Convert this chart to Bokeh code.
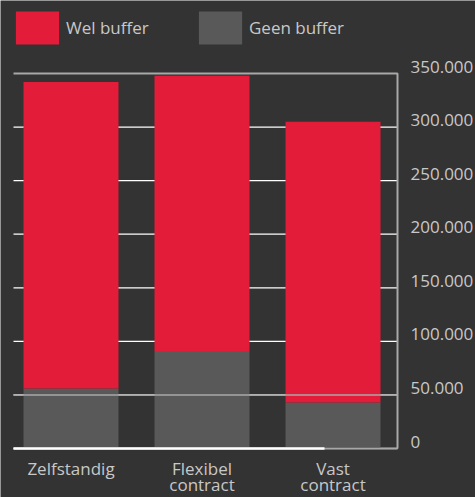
from bokeh.plotting import figure
from bokeh.models import (Range1d, Legend, LegendItem, ColumnDataSource, LabelSet)
from bokeh.core.properties import value
from bokeh.embed import file_html
from bokeh.resources import INLINE

categories = ["Zelfstandig", "Flexibel contract", "Vast contract"]
geen_buffer = [56000, 91000, 43000]
wel_buffer = [286000, 257000, 262000]
y_ticks = [0, 50000, 100000, 150000, 200000, 250000, 300000, 350000]
y_tick_labels = ["0", "50.000", "100.000", "150.000", "200.000", "250.000", "300.000", "350.000"]

BG = "#333333"
RED = "#e31d39"
GREY = "#595959"
TXT = "#c8c8c8"
LINE = "#a8a8a8"
FONT = "Open Sans"
W, H = 475, 497

# layout: plot area 13..397 px wide, value 0 at 448 px, 350.000 at 73 px
SLOT = 131.0                       # px per category
X0_PX = 70.5                       # px of first category centre
PX = y_ticks[-1] / 375.0           # data units per px (y)
x_lo, x_hi = (0 - X0_PX) / SLOT, (W - X0_PX) / SLOT
gx0, gx1 = (13 - X0_PX) / SLOT, (397 - X0_PX) / SLOT
y_lo, y_hi = -(H - 448) * PX, 448 * PX

x_idx = list(range(len(categories)))
source = ColumnDataSource(dict(
    x=x_idx, geen=geen_buffer, wel=wel_buffer,
    lab1=[c.split(" ")[0] for c in categories],
    lab2=[" ".join(c.split(" ")[1:]) for c in categories],
    base=[0] * len(categories)))

p = figure(frame_width=W, frame_height=H, output_backend="svg", toolbar_location=None,
           x_range=Range1d(x_lo, x_hi), y_range=Range1d(y_lo, y_hi),
           x_axis_location=None, y_axis_location=None,
           min_border=0, background_fill_color=BG, border_fill_color=BG)
p.outline_line_color = None
p.grid.visible = False

# white grid lines behind the bars
grid_vals = y_ticks[:-1]
p.segment(x0=[gx0] * len(grid_vals), x1=[gx1] * len(grid_vals), y0=grid_vals, y1=grid_vals,
          line_color="white", line_width=1.3)

r_geen, r_wel = p.vbar_stack(["geen", "wel"], x="x", width=95 / SLOT, color=[GREY, RED],
                             line_color=None, source=source)

# grey lines on top of bars, top line and right edge
p.segment(x0=[gx0, gx0], x1=[gx1, gx1], y0=[y_ticks[1], y_ticks[0]], y1=[y_ticks[1], y_ticks[0]],
          line_color=LINE, line_width=1.5)
p.multi_line(xs=[[gx0, gx1, gx1]], ys=[[y_ticks[-1], y_ticks[-1], y_ticks[0]]],
             line_color=LINE, line_width=2)
p.segment(x0=[gx0], y0=[0], x1=[1.935], y1=[0], line_color="white", line_width=2.5)

# category labels under the bars
for col, off in (("lab1", -20), ("lab2", -36)):
    p.add_layout(LabelSet(x="x", y="base", text=col, source=source, y_offset=off,
                          text_align="center", text_baseline="middle",
                          text_font=value(FONT), text_font_size="17px", text_color=TXT))

# value labels on the right, slightly above their lines
ysrc = ColumnDataSource(dict(x=[gx1] * len(y_ticks), y=y_ticks, text=y_tick_labels))
p.add_layout(LabelSet(x="x", y="y", text="text", source=ysrc, x_offset=13, y_offset=7,
                      text_align="left", text_baseline="middle",
                      text_font=value(FONT), text_font_size="17px", text_color=TXT))

legend = Legend(items=[LegendItem(label="Wel buffer", renderers=[r_wel]),
                       LegendItem(label="Geen buffer", renderers=[r_geen])],
                orientation="horizontal", location=(10, 449), glyph_width=54, glyph_height=41,
                label_standoff=2, label_width=127, spacing=0, padding=0, margin=0,
                background_fill_alpha=0, border_line_alpha=0,
                label_text_font=FONT, label_text_font_size="17px", label_text_color=TXT)
p.add_layout(legend)

open("out.html", "w").write(file_html(p, INLINE))
